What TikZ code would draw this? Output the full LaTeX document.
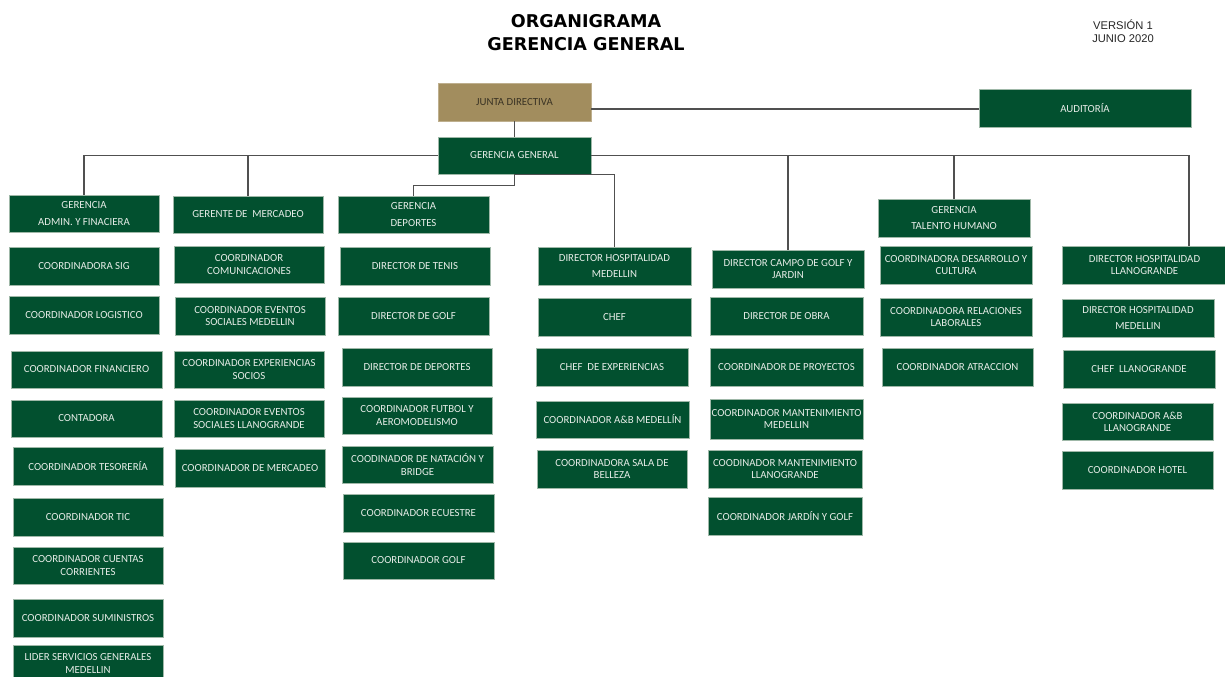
\documentclass[tikz,border=0pt]{standalone}
\usepackage{fontspec}
\setmainfont{Carlito}
\newfontfamily\ttlfont{DejaVu Sans}
\newfontfamily\verfont{Liberation Sans}
\definecolor{dgreen}{HTML}{02502F}
\definecolor{boxedge}{HTML}{9FB8A8}
\definecolor{boxtext}{HTML}{E6ECE7}
\definecolor{tanfill}{HTML}{A28D5E}
\definecolor{tantext}{HTML}{3A3324}
\definecolor{lineg}{HTML}{505050}
\tikzset{
  orgbox/.style={draw=boxedge, fill=dgreen, text=boxtext, font=\fontsize{15.4}{17.5}\selectfont, align=center, inner sep=0pt, line width=0.7pt},
  widebox/.style={orgbox, font=\fontsize{15.4}{23}\selectfont},
  tanbox/.style={orgbox, fill=tanfill, text=tantext, draw=tanfill!70!white},
  conn/.style={draw=lineg, line width=1.6pt},
}
\newcommand\bx[7][orgbox]{%
  \pgfmathsetmacro\bxcx{(#3+#5)/2}%
  \pgfmathsetmacro\bxcy{(#4+#6)/2}%
  \pgfmathsetmacro\bxw{(#5-#3)*0.5}%
  \pgfmathsetmacro\bxh{(#6-#4)*0.5}%
  \node[#1, minimum width=\bxw mm, minimum height=\bxh mm] (#2) at (\bxcx,\bxcy) {#7};}
\begin{document}
\begin{tikzpicture}[x=0.5mm,y=-0.5mm]
\fill[white] (0,0) rectangle (1225,676);
\useasboundingbox (0,0) rectangle (1225,676);
\clip (0,0) rectangle (1225,676);
% titles
\node[anchor=base, font=\ttlfont\bfseries\fontsize{25}{30}\selectfont, text=black] (t1) at (586,27) {ORGANIGRAMA};
\node[anchor=base, font=\ttlfont\bfseries\fontsize{25}{30}\selectfont, text=black] (t2) at (586,50) {GERENCIA GENERAL};
\node[anchor=base, font=\verfont\fontsize{15.9}{18}\selectfont, text=black!85] (v1) at (1123,29) {VERSIÓN 1};
\node[anchor=base, font=\verfont\fontsize{15.9}{18}\selectfont, text=black!85] (v2) at (1123,42) {JUNIO 2020};
% top
\bx[tanbox]{jd}{438}{83}{591}{121}{JUNTA DIRECTIVA}
\bx{gg}{438}{137}{591}{174}{GERENCIA GENERAL}
\bx{aud}{979}{89}{1191}{127}{AUDITORÍA}
% column 1
\bx[widebox]{adm}{9}{195}{159}{232}{GERENCIA\\ADMIN. Y FINACIERA}
\bx{a1}{9}{247}{159}{285}{COORDINADORA SIG}
\bx{a2}{9}{296}{159}{334}{COORDINADOR LOGISTICO}
\bx{a3}{11}{351}{162}{388}{COORDINADOR FINANCIERO}
\bx{a4}{11}{400}{162}{437}{CONTADORA}
\bx{a5}{13}{447}{163}{485}{COORDINADOR TESORERÍA}
\bx{a6}{13}{498}{163}{536}{COORDINADOR TIC}
\bx{a7}{13}{547}{163}{584}{COORDINADOR CUENTAS\\CORRIENTES}
\bx{a8}{13}{599}{163}{637}{COORDINADOR SUMINISTROS}
\bx{a9}{13}{645}{163}{682}{LIDER SERVICIOS GENERALES\\MEDELLIN}
% column 2
\bx{mer}{173}{196}{323}{233}{GERENTE DE\ \ MERCADEO}
\bx{m1}{174}{246}{324}{283}{COORDINADOR\\COMUNICACIONES}
\bx{m2}{175}{297}{325}{335}{COORDINADOR EVENTOS\\SOCIALES MEDELLIN}
\bx{m3}{174}{351}{324}{388}{COORDINADOR EXPERIENCIAS\\SOCIOS}
\bx{m4}{174}{400}{324}{437}{COORDINADOR EVENTOS\\SOCIALES LLANOGRANDE}
\bx{m5}{175}{449}{325}{487}{COORDINADOR DE MERCADEO}
% column 3
\bx[widebox]{dep}{338}{196}{489}{233}{GERENCIA\\DEPORTES}
\bx{d1}{340}{247}{490}{285}{DIRECTOR DE TENIS}
\bx{d2}{338}{297}{489}{335}{DIRECTOR DE GOLF}
\bx{d3}{342}{348}{492}{386}{DIRECTOR DE DEPORTES}
\bx{d4}{342}{397}{492}{434}{COORDINADOR FUTBOL Y\\AEROMODELISMO}
\bx{d5}{342}{446}{493}{483}{COODINADOR DE NATACIÓN Y\\BRIDGE}
\bx{d6}{343}{494}{494}{532}{COORDINADOR ECUESTRE}
\bx{d7}{343}{542}{494}{579}{COORDINADOR GOLF}
% column 4
\bx[widebox]{hm}{538}{247}{691}{285}{DIRECTOR HOSPITALIDAD\\MEDELLIN}
\bx{h1}{538}{298}{691}{336}{CHEF}
\bx{h2}{536}{348}{688}{386}{CHEF\ \ DE EXPERIENCIAS}
\bx{h3}{536}{401}{689}{438}{COORDINADOR A\&B MEDELLÍN}
\bx{h4}{537}{450}{687}{488}{COORDINADORA SALA DE\\BELLEZA}
% column 5
\bx{cg}{712}{250}{864}{288}{DIRECTOR CAMPO DE GOLF Y\\JARDIN}
\bx{c1}{710}{297}{863}{335}{DIRECTOR DE OBRA}
\bx{c2}{710}{348}{863}{386}{COORDINADOR DE PROYECTOS}
\bx{c3}{710}{399}{863}{439}{COORDINADOR MANTENIMIENTO\\MEDELLIN}
\bx{c4}{708}{450}{862}{488}{COODINADOR MANTENIMIENTO\\LLANOGRANDE}
\bx{c5}{708}{497}{862}{535}{COORDINADOR JARDÍN Y GOLF}
% column 6
\bx[widebox]{th}{878}{199}{1030}{237}{GERENCIA\\TALENTO HUMANO}
\bx{tt1}{880}{246}{1032}{284}{COORDINADORA DESARROLLO Y\\CULTURA}
\bx{tt2}{880}{298}{1032}{336}{COORDINADORA RELACIONES\\LABORALES}
\bx{tt3}{882}{348}{1033}{386}{COORDINADOR ATRACCION}
% column 7
\bx{hl}{1062}{246}{1227}{284}{DIRECTOR HOSPITALIDAD\\LLANOGRANDE}
\bx[widebox]{l1}{1062}{299}{1214}{337}{DIRECTOR HOSPITALIDAD\\MEDELLIN}
\bx{l2}{1063}{350}{1215}{388}{CHEF\ \ LLANOGRANDE}
\bx{l3}{1062}{403}{1213}{440}{COORDINADOR A\&B\\LLANOGRANDE}
\bx{l4}{1062}{451}{1213}{489}{COORDINADOR HOTEL}
% connectors
\coordinate (busR) at (1189,155.5);
\draw[conn] (jd.south) -- (gg.north);
\draw[conn] (jd.east |- 0,109) -- (aud.west |- 0,109);
\draw[conn] (gg.west) -| (adm.north);
\draw[conn] (mer.north) -- (mer.north |- gg.west);
\draw[conn] (gg.east) -- (busR) -- (busR |- hl.north);
\draw[conn] (cg.north) -- (cg.north |- gg.east);
\draw[conn] (th.north) -- (th.north |- gg.east);
\draw[conn] (gg.south) -- ++(0,11) -| (dep.north);
\draw[conn] (gg.south) -| (hm.north);
\end{tikzpicture}
\end{document}
